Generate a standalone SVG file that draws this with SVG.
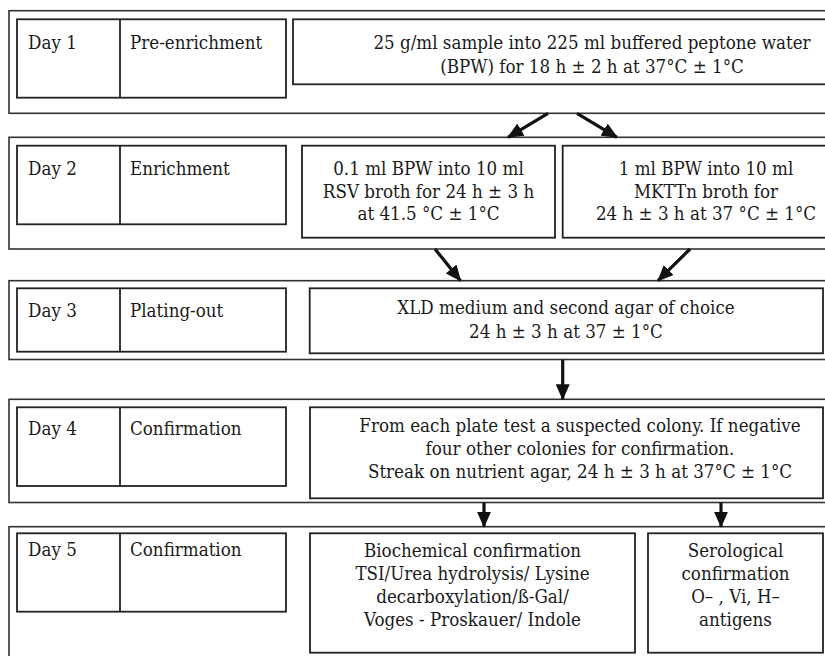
<svg xmlns="http://www.w3.org/2000/svg" width="825" height="656" viewBox="0 0 825 656">
<style>
  .frame { fill: none; stroke: #333; stroke-width: 1.6; }
  .box { fill: none; stroke: #222; stroke-width: 1.8; }
  .t { font-family: "DejaVu Serif Condensed", "DejaVu Serif", serif; font-stretch: condensed; font-size: 18.6px; fill: #1a1a1a; }
  .c { text-anchor: middle; }
  .arrow { stroke: #111; stroke-width: 3.2; fill: none; marker-end: url(#ah); }
</style>
<defs>
  <marker id="ah" markerUnits="userSpaceOnUse" markerWidth="16" markerHeight="14" viewBox="0 0 16 14" refX="15" refY="7" orient="auto">
    <path d="M0,0 L16,7 L0,14 Z" fill="#111"/>
  </marker>
</defs>
<rect width="825" height="656" fill="#fff"/>

<g id="day1">
  <rect class="frame" x="9" y="10.7" width="830" height="102.6"/>
  <rect class="box" x="17" y="19.3" width="269" height="78.4"/>
  <line class="box" x1="120" y1="19.3" x2="120" y2="97.7"/>
  <text class="t" x="28" y="49">Day 1</text>
  <text class="t" x="130" y="49">Pre-enrichment</text>
  <rect class="box" x="293" y="19.3" width="540" height="65"/>
  <text class="t c" x="592" y="48.5">25 g/ml sample into 225 ml buffered peptone water</text>
  <text class="t c" x="592" y="72.5">(BPW) for 18 h ± 2  h at 37°C ± 1°C</text>
</g>

<g id="day2">
  <rect class="frame" x="9" y="137.3" width="830" height="111.7"/>
  <rect class="box" x="17" y="145.7" width="269" height="78.6"/>
  <line class="box" x1="120" y1="145.7" x2="120" y2="224.3"/>
  <text class="t" x="28" y="175">Day 2</text>
  <text class="t" x="130" y="175">Enrichment</text>
  <rect class="box" x="302" y="145.7" width="253" height="92"/>
  <text class="t c" x="428.5" y="174.5">0.1 ml BPW into 10 ml</text>
  <text class="t c" x="428.5" y="197.5">RSV broth for 24 h ± 3  h</text>
  <text class="t c" x="428.5" y="220">at 41.5 °C ± 1°C</text>
  <rect class="box" x="562.7" y="145.7" width="270" height="92"/>
  <text class="t c" x="706" y="174.5">1 ml BPW into 10 ml</text>
  <text class="t c" x="706" y="197.5">MKTTn broth for</text>
  <text class="t c" x="706" y="220">24 h ± 3 h at 37 °C ± 1°C</text>
</g>

<g id="day3">
  <rect class="frame" x="9" y="280.7" width="830" height="78.8"/>
  <rect class="box" x="17" y="288.3" width="269" height="63.4"/>
  <line class="box" x1="120" y1="288.3" x2="120" y2="351.7"/>
  <text class="t" x="28" y="316.7">Day 3</text>
  <text class="t" x="130" y="316.7">Plating-out</text>
  <rect class="box" x="309.7" y="288.3" width="513.3" height="65"/>
  <text class="t c" x="566" y="314">XLD medium and second agar of choice</text>
  <text class="t c" x="566" y="338.3">24 h ± 3 h at 37 ± 1°C</text>
</g>

<g id="day4">
  <rect class="frame" x="9" y="399.3" width="830" height="103.2"/>
  <rect class="box" x="17" y="407.3" width="269" height="78.7"/>
  <line class="box" x1="120" y1="407.3" x2="120" y2="486"/>
  <text class="t" x="28" y="435">Day 4</text>
  <text class="t" x="130" y="435">Confirmation</text>
  <rect class="box" x="310" y="407.3" width="513" height="91"/>
  <text class="t c" x="580" y="432">From each plate test a suspected colony. If negative</text>
  <text class="t c" x="580" y="455">four other colonies for confirmation.</text>
  <text class="t c" x="580" y="478">Streak on nutrient agar, 24 h ± 3 h at 37°C ± 1°C</text>
</g>

<g id="day5">
  <rect class="frame" x="9" y="526.7" width="830" height="140"/>
  <rect class="box" x="17" y="533.3" width="269" height="78.4"/>
  <line class="box" x1="120" y1="533.3" x2="120" y2="611.7"/>
  <text class="t" x="28" y="556">Day 5</text>
  <text class="t" x="130" y="556">Confirmation</text>
  <rect class="box" x="310" y="533.3" width="325" height="119.4"/>
  <text class="t c" x="472.5" y="557">Biochemical confirmation</text>
  <text class="t c" x="472.5" y="580">TSI/Urea hydrolysis/ Lysine</text>
  <text class="t c" x="472.5" y="603">decarboxylation/ß-Gal/</text>
  <text class="t c" x="472.5" y="626">Voges - Proskauer/ Indole</text>
  <rect class="box" x="648" y="533.3" width="175" height="119.4"/>
  <text class="t c" x="735.5" y="557">Serological</text>
  <text class="t c" x="735.5" y="580">confirmation</text>
  <text class="t c" x="735.5" y="603">O– , Vi, H–</text>
  <text class="t c" x="735.5" y="626">antigens</text>
</g>

<g id="connectors">
  <line class="arrow" x1="548" y1="113.3" x2="508" y2="137.3"/>
  <line class="arrow" x1="577" y1="113.3" x2="617" y2="137.3"/>
  <line class="arrow" x1="435" y1="249" x2="460.5" y2="280.7"/>
  <line class="arrow" x1="690" y1="249" x2="658" y2="280.7"/>
  <line class="arrow" x1="562.7" y1="359.5" x2="562.7" y2="399.3"/>
  <line class="arrow" x1="484" y1="502.5" x2="484" y2="526.7"/>
  <line class="arrow" x1="721" y1="502.5" x2="721" y2="526.7"/>
</g>
</svg>
